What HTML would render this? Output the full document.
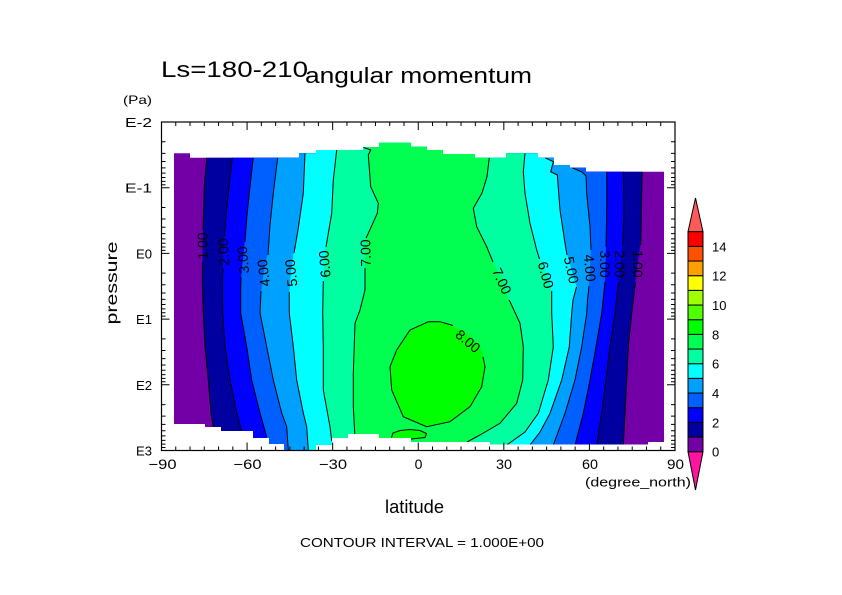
<!DOCTYPE html>
<html><head><meta charset="utf-8"><style>
html,body{margin:0;padding:0;background:#fff;}
svg{display:block;}
text{font-family:"Liberation Sans",sans-serif;fill:#000;}
</style></head><body>
<svg width="842" height="595" viewBox="0 0 842 595" xmlns="http://www.w3.org/2000/svg">
<rect x="0" y="0" width="842" height="595" fill="#fff"/>
<defs>
<clipPath id="dc"><polygon points="174,153.3 190,153.3 190,157.7 299,157.7 299,153.3 316,153.3 316,150 363,150 363,147.3 379,147.3 379,142.7 411,142.7 411,146.7 427,146.7 427,150 443,150 443,154 475,154 475,157.7 506,157.7 506,153.3 538,153.3 538,157.7 554,157.7 554,165 570,165 570,167.7 586,167.7 586,171.7 664,171.7 664,442 648,442 648,444.5 490,444.5 490,442 411,442 411,438 379,438 379,434 348,434 348,438 332,438 332,445 316,445 316,450 284,450 284,444 269,444 269,438 253,438 253,431 221,431 221,427 205,427 205,424 174,424"/></clipPath>
</defs>
<g clip-path="url(#dc)">
<rect x="170" y="130" width="500" height="330" fill="#7300A6"/>
<polygon fill="#0000A0" points="206.7,130 206.7,157.7 204.3,186.7 203.5,215 203,230 202.6,246 202.5,262 202.3,280 203.3,313 205,346.7 208.3,380 211,413 213.3,427 214,460 623,460 623.3,445 625,413.3 626.7,380 628.3,346.7 631.7,313.3 635,284 637.5,264 640.7,243 641.7,193.3 642.3,171.7 642.3,130"/>
<polygon fill="#0000FF" points="232.3,130 232.3,157.7 229,186.7 226,215 224.5,235 223.5,252 223,268 222.3,280 222.7,313 225,346.7 230,380 236.7,413 241.7,431 242,460 596,460 596.7,445 601.7,413.3 606,380 610,346.7 615,313.3 618.3,284 620.5,264 622.7,243 624,210 623.3,171.7 623.3,130"/>
<polygon fill="#0060FF" points="253.3,130 253.3,157.7 250,186.7 247,215 245,240 243,259 241,278 240.7,290 240.7,313 246.7,346.7 251.7,380 260,413 266.7,437 267,460 574,460 575,445 583.3,413.3 590,380 596,346.7 601.7,313.3 605,284 605.5,264 606,243 606.7,210 606.7,171.7 606.7,130"/>
<polygon fill="#00A0FF" points="277.7,130 277.7,157.7 273.3,193.3 270,225 268,250 264,272 261,291 260,313 266.7,346.7 273.3,380 281.7,413 286.7,426.7 288.3,450 288.5,460 552,460 553.3,445 565,413.3 575,380 581.7,346.7 586.7,313.3 587.5,300 589,286 590,268 591,247 590,226.7 586.7,193.3 586,176 582,172 572,167.7 572,130"/>
<polygon fill="#00FFFF" points="305,130 305,153.3 303.3,193.3 298,230 294,250 291,272 289.3,292 289.3,313 293.3,346.7 296.7,380 303.3,413 306.7,426.7 308.3,450 308.5,460 528,460 530,445 540,432 550,413.3 561.7,380 569.3,346.7 571.7,313.3 573,300 576.7,287 571.5,270 567,253 565,243.3 560,210 557.3,175 550.7,171.7 553.3,161.7 545,157.7 545,130"/>
<polygon fill="#00FFA0" points="336.7,130 336.7,150 333.3,180 331.7,213.3 328,235 326,245 324,264 323.3,282 322.7,313 323.3,346.7 323.3,390 330,426.7 331.7,441 332,460 505,460 506.7,445 525,432 538.3,413.3 548.3,380 553.3,346.7 551.7,313.3 551.7,292 547,275 540,260 536.7,250 530,223.3 525,193.3 523.3,171.7 525,153.3 525,130"/>
<polygon fill="#00FF50" points="363.3,130 363.3,147.3 370.7,150 368.3,155 370.7,186.7 378.3,203.3 377.3,213.3 368.3,233.3 366,240 365.5,253 365,268 365,290 360,310 355,323.3 353.3,373.3 353.3,406.7 355,438 355,460 466,460 467,442 480,435 500,423.3 516.7,403.3 522.7,380 523.3,346.7 520,323.3 510,301.7 508,298 503,281 493,262 486.7,246.7 476.7,226.7 473.3,208.3 482,193 487,176.7 489.3,157.7 489.3,130"/>
<polygon fill="#00FF00" points="453,326 466.7,333.3 475,341 481.7,350 485,366.7 481.7,386.7 470,406.7 450,421.7 426.7,426.7 403.3,416.7 391.7,390 390,366.7 396.7,350 410,330 428.3,321.7 440,321.7"/>
<polygon fill="#00FF00" points="391,438 393,433 400,430.5 410,429.5 420,430.5 426.5,433.5 425,437.5 411,439 405,438"/>
<g fill="none" stroke="#000" stroke-width="1">
<polyline points="206.7,157.7 204.3,186.7 203.5,215 203,230"/>
<polyline points="202.5,262 202.3,280 203.3,313 205,346.7 208.3,380 211,413 213.3,427"/>
<polyline points="232.3,157.7 229,186.7 226,215 224.5,236"/>
<polyline points="223,268 222.3,280 222.7,313 225,346.7 230,380 236.7,413 241.7,431"/>
<polyline points="253.3,157.7 250,186.7 247,215 245,242"/>
<polyline points="241,277 240.7,290 240.7,313 246.7,346.7 251.7,380 260,413 266.7,437"/>
<polyline points="277.7,157.7 273.3,193.3 270,225 268,255"/>
<polyline points="261,291 260,313 266.7,346.7 273.3,380 281.7,413 286.7,426.7 288.3,450"/>
<polyline points="305,153.3 303.3,193.3 298,230 294,253"/>
<polyline points="289.3,292 289.3,313 293.3,346.7 296.7,380 303.3,413 306.7,426.7 308.3,450"/>
<polyline points="336.7,150 333.3,180 331.7,213.3 328,235 326,247"/>
<polyline points="323.3,281 322.7,313 323.3,346.7 323.3,390 330,426.7 331.7,441"/>
<polyline points="363.3,147.3 370.7,150 368.3,155 370.7,186.7 378.3,203.3 377.3,213.3 368.3,233.3 366,238"/>
<polyline points="365,268 365,290 360,310 355,323.3 353.3,373.3 353.3,406.7 355,438"/>
<polyline points="489.3,157.7 487,176.7 482,193 473.3,208.3 476.7,226.7 486.7,246.7 493,262"/>
<polyline points="509,300 510,301.7 520,323.3 523.3,346.7 522.7,380 516.7,403.3 500,423.3 480,435 467,442"/>
<polyline points="525,153.3 523.3,171.7 525,193.3 530,223.3 536.7,250 539.5,259"/>
<polyline points="551.7,291 551.7,313.3 553.3,346.7 548.3,380 538.3,413.3 525,432 506.7,445"/>
<polyline points="545,157.7 553.3,161.7 550.7,171.7 557.3,175 560,210 565,243.3 567,255"/>
<polyline points="576.5,287 573,300 571.7,313.3 569.3,346.7 561.7,380 550,413.3 540,432 530,445"/>
<polyline points="572,167.7 582,172 586,176 586.7,193.3 590,226.7 591,250"/>
<polyline points="589,286 587.5,300 586.7,313.3 581.7,346.7 575,380 565,413.3 553.3,445"/>
<polyline points="606.7,171.7 606.7,210 606,247"/>
<polyline points="605,282 601.7,313.3 596,346.7 590,380 583.3,413.3 575,445"/>
<polyline points="623.3,171.7 624,210 622.7,246"/>
<polyline points="618.5,282 615,313.3 610,346.7 606,380 601.7,413.3 596.7,445"/>
<polyline points="642.3,171.7 641.7,193.3 640.7,245"/>
<polyline points="635.5,282 631.7,313.3 628.3,346.7 626.7,380 625,413.3 623.3,445"/>
<polyline points="483,357 485,366.7 481.7,386.7 470,406.7 450,421.7 426.7,426.7 403.3,416.7 391.7,390 390,366.7 396.7,350 410,330 428.3,321.7 440,321.7 453,325.5"/>
<polyline points="391.5,437.5 393,433 400,430.5 410,429.5 420,430.5 426.5,433.5 425,437.5 411,439"/>
</g>
</g>
<g font-size="14" text-anchor="middle" dominant-baseline="central">
<text transform="translate(202.5,246) rotate(-91)">1.00</text>
<text transform="translate(223.5,252) rotate(-93)">2.00</text>
<text transform="translate(243,260) rotate(-95)">3.00</text>
<text transform="translate(263.5,273) rotate(-97)">4.00</text>
<text transform="translate(291,273) rotate(-96)">5.00</text>
<text transform="translate(324.5,264) rotate(-95)">6.00</text>
<text transform="translate(365.5,253) rotate(-91)">7.00</text>
<text transform="translate(502,281) rotate(65)">7.00</text>
<text transform="translate(546,275) rotate(75)">6.00</text>
<text transform="translate(571.5,270) rotate(78)">5.00</text>
<text transform="translate(590,268) rotate(85)">4.00</text>
<text transform="translate(605,264) rotate(90)">3.00</text>
<text transform="translate(620,264) rotate(90)">2.00</text>
<text transform="translate(638,264) rotate(90)">1.00</text>
<text transform="translate(468,341) rotate(40)">8.00</text>
</g>
<rect x="161.5" y="122" width="513.5" height="328.5" fill="none" stroke="#000" stroke-width="1.2"/>
<g stroke="#000" stroke-width="1" fill="none">
<path d="M175.76 122v4M190.03 122v4M204.29 122v4M218.56 122v4M232.82 122v4M247.08 122v8M261.35 122v4M275.61 122v4M289.87 122v4M304.14 122v4M318.4 122v4M332.67 122v8M346.93 122v4M361.19 122v4M375.46 122v4M389.72 122v4M403.99 122v4M418.25 122v8M432.51 122v4M446.78 122v4M461.04 122v4M475.31 122v4M489.57 122v4M503.83 122v8M518.1 122v4M532.36 122v4M546.62 122v4M560.89 122v4M575.15 122v4M589.42 122v8M603.68 122v4M617.94 122v4M632.21 122v4M646.47 122v4M660.74 122v4"/>
<path d="M175.76 450.5v-4M190.03 450.5v-4M204.29 450.5v-4M218.56 450.5v-4M232.82 450.5v-4M247.08 450.5v-8M261.35 450.5v-4M275.61 450.5v-4M289.87 450.5v-4M304.14 450.5v-4M318.4 450.5v-4M332.67 450.5v-8M346.93 450.5v-4M361.19 450.5v-4M375.46 450.5v-4M389.72 450.5v-4M403.99 450.5v-4M418.25 450.5v-8M432.51 450.5v-4M446.78 450.5v-4M461.04 450.5v-4M475.31 450.5v-4M489.57 450.5v-4M503.83 450.5v-8M518.1 450.5v-4M532.36 450.5v-4M546.62 450.5v-4M560.89 450.5v-4M575.15 450.5v-4M589.42 450.5v-8M603.68 450.5v-4M617.94 450.5v-4M632.21 450.5v-4M646.47 450.5v-4M660.74 450.5v-4"/>
<path d="M161.5 141.78h4M161.5 153.35h4M161.5 161.56h4M161.5 167.92h4M161.5 173.12h4M161.5 177.52h4M161.5 181.33h4M161.5 184.69h4M161.5 187.7h8M161.5 207.48h4M161.5 219.05h4M161.5 227.26h4M161.5 233.62h4M161.5 238.82h4M161.5 243.22h4M161.5 247.03h4M161.5 250.39h4M161.5 253.4h8M161.5 273.18h4M161.5 284.75h4M161.5 292.96h4M161.5 299.32h4M161.5 304.52h4M161.5 308.92h4M161.5 312.73h4M161.5 316.09h4M161.5 319.1h8M161.5 338.88h4M161.5 350.45h4M161.5 358.66h4M161.5 365.02h4M161.5 370.22h4M161.5 374.62h4M161.5 378.43h4M161.5 381.79h4M161.5 384.8h8M161.5 404.58h4M161.5 416.15h4M161.5 424.36h4M161.5 430.72h4M161.5 435.92h4M161.5 440.32h4M161.5 444.13h4M161.5 447.49h4"/>
<path d="M675 141.78h-4M675 153.35h-4M675 161.56h-4M675 167.92h-4M675 173.12h-4M675 177.52h-4M675 181.33h-4M675 184.69h-4M675 187.7h-8M675 207.48h-4M675 219.05h-4M675 227.26h-4M675 233.62h-4M675 238.82h-4M675 243.22h-4M675 247.03h-4M675 250.39h-4M675 253.4h-8M675 273.18h-4M675 284.75h-4M675 292.96h-4M675 299.32h-4M675 304.52h-4M675 308.92h-4M675 312.73h-4M675 316.09h-4M675 319.1h-8M675 338.88h-4M675 350.45h-4M675 358.66h-4M675 365.02h-4M675 370.22h-4M675 374.62h-4M675 378.43h-4M675 381.79h-4M675 384.8h-8M675 404.58h-4M675 416.15h-4M675 424.36h-4M675 430.72h-4M675 435.92h-4M675 440.32h-4M675 444.13h-4M675 447.49h-4"/>
</g>
<text x="161" y="77" font-size="22" textLength="147" lengthAdjust="spacingAndGlyphs">Ls=180-210</text>
<text x="305" y="83" font-size="22" textLength="227" lengthAdjust="spacingAndGlyphs">angular momentum</text>
<text x="123" y="104" font-size="12" textLength="29" lengthAdjust="spacingAndGlyphs">(Pa)</text>
<g font-size="13" text-anchor="end">
<text x="152" y="127" textLength="27" lengthAdjust="spacingAndGlyphs">E-2</text>
<text x="152" y="192.7" textLength="27" lengthAdjust="spacingAndGlyphs">E-1</text>
<text x="152" y="258.4" textLength="16" lengthAdjust="spacingAndGlyphs">E0</text>
<text x="152" y="324.1" textLength="16" lengthAdjust="spacingAndGlyphs">E1</text>
<text x="152" y="389.8" textLength="16" lengthAdjust="spacingAndGlyphs">E2</text>
<text x="152" y="455.5" textLength="16" lengthAdjust="spacingAndGlyphs">E3</text>
</g>
<text transform="translate(117,283) rotate(-90)" font-size="16" text-anchor="middle" textLength="83" lengthAdjust="spacingAndGlyphs">pressure</text>
<g font-size="14" text-anchor="middle">
<text x="162.5" y="469" textLength="28" lengthAdjust="spacingAndGlyphs">−90</text>
<text x="247.5" y="469" textLength="28" lengthAdjust="spacingAndGlyphs">−60</text>
<text x="333" y="469" textLength="28" lengthAdjust="spacingAndGlyphs">−30</text>
<text x="418.5" y="469">0</text>
<text x="504" y="469" textLength="16" lengthAdjust="spacingAndGlyphs">30</text>
<text x="590" y="469" textLength="16" lengthAdjust="spacingAndGlyphs">60</text>
<text x="675.5" y="469" textLength="17" lengthAdjust="spacingAndGlyphs">90</text>
</g>
<text x="585" y="486.5" font-size="13" textLength="106" lengthAdjust="spacingAndGlyphs">(degree_north)</text>
<text x="385" y="513" font-size="18" textLength="59" lengthAdjust="spacingAndGlyphs">latitude</text>
<text x="300" y="547" font-size="12.5" textLength="244" lengthAdjust="spacingAndGlyphs">CONTOUR INTERVAL = 1.000E+00</text>
<g stroke="#000" stroke-width="1">
<polygon points="688,231.7 703,231.7 695.5,198" fill="#FF5A5A"/>
<polygon points="688,451.7 703,451.7 695.5,490" fill="#FF14A0"/>
<rect x="688" y="437.03" width="15" height="14.67" fill="#7300A6"/>
<rect x="688" y="422.37" width="15" height="14.67" fill="#0000A0"/>
<rect x="688" y="407.7" width="15" height="14.67" fill="#0000FF"/>
<rect x="688" y="393.03" width="15" height="14.67" fill="#0060FF"/>
<rect x="688" y="378.37" width="15" height="14.67" fill="#00A0FF"/>
<rect x="688" y="363.7" width="15" height="14.67" fill="#00FFFF"/>
<rect x="688" y="349.03" width="15" height="14.67" fill="#00FFA0"/>
<rect x="688" y="334.37" width="15" height="14.67" fill="#00FF50"/>
<rect x="688" y="319.7" width="15" height="14.67" fill="#00FF00"/>
<rect x="688" y="305.03" width="15" height="14.67" fill="#50FF00"/>
<rect x="688" y="290.37" width="15" height="14.67" fill="#A0FF00"/>
<rect x="688" y="275.7" width="15" height="14.67" fill="#FFFF00"/>
<rect x="688" y="261.03" width="15" height="14.67" fill="#FFA000"/>
<rect x="688" y="246.37" width="15" height="14.67" fill="#FF5000"/>
<rect x="688" y="231.7" width="15" height="14.67" fill="#FF0000"/>
</g>
<g font-size="13">
<text x="712" y="456.7">0</text>
<text x="712" y="427.4">2</text>
<text x="712" y="398">4</text>
<text x="712" y="368.7">6</text>
<text x="712" y="339.4">8</text>
<text x="712" y="310">10</text>
<text x="712" y="280.7">12</text>
<text x="712" y="251.4">14</text>
</g>
</svg>
</body></html>
